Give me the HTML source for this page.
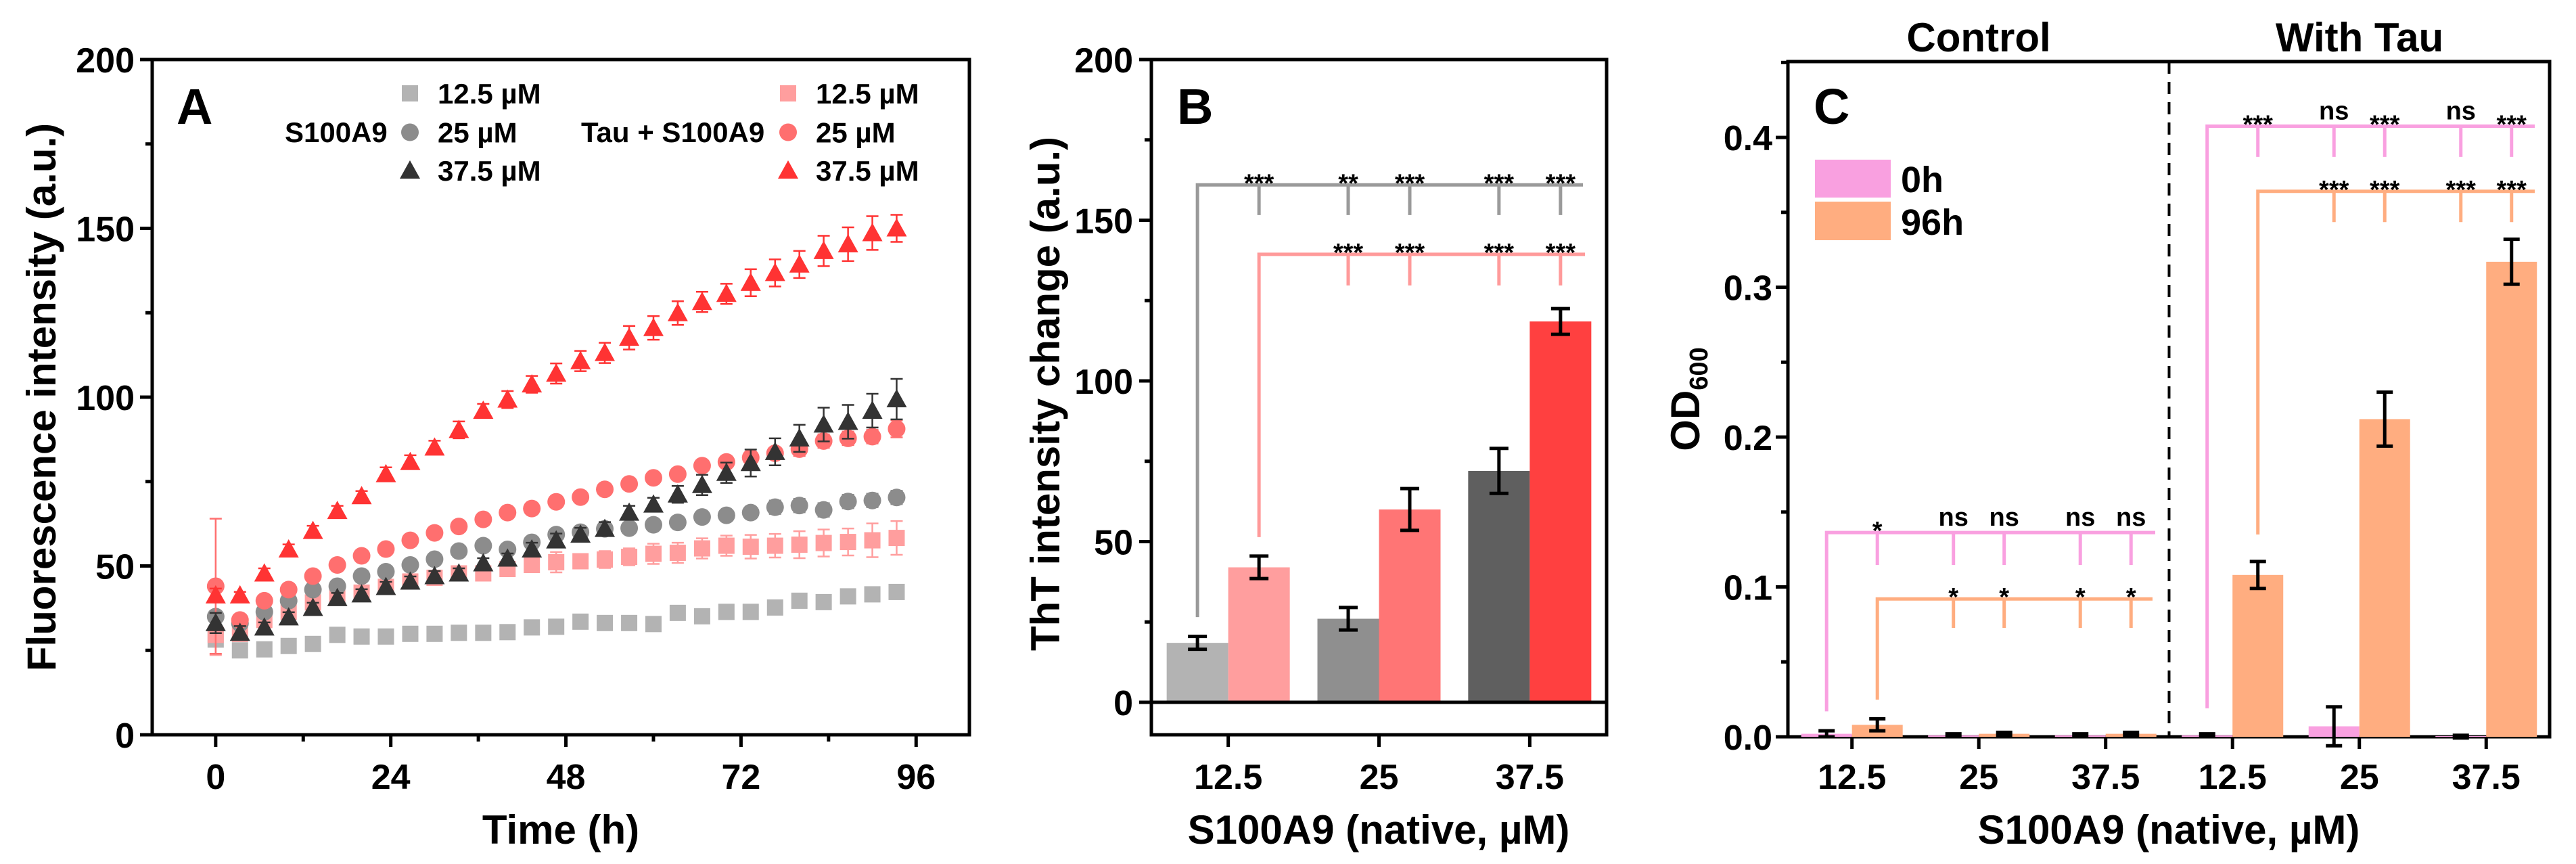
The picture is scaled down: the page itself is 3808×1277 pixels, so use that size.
<!DOCTYPE html>
<html><head><meta charset="utf-8"><style>
html,body{margin:0;padding:0;background:#fff;}
svg{display:block;}
text{font-family:"Liberation Sans",Arial,sans-serif;font-weight:bold;fill:#000;}
</style></head><body>
<svg id="fig" width="3808" height="1277" viewBox="0 0 3808 1277" xmlns="http://www.w3.org/2000/svg">
<g id="pA"></g>
<g id="pB"></g>
<g id="pC"></g>
</svg>
<script>
// ---------- Panel A data ----------
const timesA = [0,3.33,6.67,10,13.33,16.67,20,23.33,26.67,30,33.33,36.67,40,43.33,46.67,50,53.33,56.67,60,63.33,66.67,70,73.33,76.67,80,83.33,86.67,90,93.33];
const graySq = [28.2,25,25.3,26.3,26.9,29.6,29.1,29.1,29.9,29.9,30.2,30.2,30.4,31.8,32,33.5,33.1,33.1,32.8,36.1,35.1,36.4,36.4,37.7,39.7,39.3,41,41.6,42.3];
const graySqErr = [1,1,1,1,1,1,1,1,1,1,1,1,1,1,1,1,1,1,1,1,2,1.5,2,1,1,1,1,1,1];
const grayCi = [35,33,36.4,39.7,43,44,47,48.3,50.3,52,54.4,56,54.9,57,59.3,60,61,61.2,62.2,62.9,64.5,65,65.8,67.4,67.9,66.6,69.1,69.4,70.3];
const grayCiErr = [1.5,1,1,1,1,1,1,1,1,1,1,1,1,1,1,1,1,1,1,1,1.5,1.5,1.5,2,2,2,2,2,2];
const darkTr = [33.1,30.2,31.8,34.8,37.6,40.5,41.6,43.8,45.4,47,47.8,50.8,52.2,54.9,57.6,59.3,61,65.8,68.2,71.2,74,77.6,80.5,83.8,87.8,91.9,92.7,96,99.4];
const darkTrErr = [3,2,1.5,1.5,1.5,1.5,1.5,1.5,1.5,1.5,1.5,1.5,1.5,2,2,2,2,2,2,2.5,3,3,4,4,4,5,5,5,6];
const pinkSq = [29.6,29.9,34,36.4,39.2,41.3,42.1,43.8,45.4,46.5,47.8,47.8,49.1,50.3,51.1,51.4,51.9,52.7,53.6,53.9,55.2,56,55.7,56,56.3,56.8,57.1,57.6,58.3];
const pinkSqErr = [6,1.5,1,1,1,1,1,1,1,1,1,1.5,2,2,3,2,2.5,2.5,3,3,3,3,3.5,3.5,4,4,4,5,5];
const pinkCi = [44,34,39.7,43,47,50.3,53,55,57.6,59.8,61.7,63.8,65.8,67,69,70.4,72.7,74.3,76.1,77.2,79.7,80.8,82.1,83.4,84.6,87,87.8,88.3,90.6];
const pinkCiErr = [20,1.5,1,1,1,1,1,1,1,1,1,1,1,1,1,1,1,1,1,1,1.5,1.5,1.5,1.5,2,2,2,2,2.5];
const redTr = [41.3,41.3,47.8,54.9,60.4,66.3,70.7,77.2,80.8,85.1,90.3,96,99.3,103.8,107,110.7,113.1,117.6,120.5,124.9,128.2,130.6,133.9,136.8,139.3,143.3,145.3,148.6,150];
const redTrErr = [2,1,1.5,1.5,1.5,1.5,1.5,2,2,2,2.5,2,2.5,2.5,3,3,3,3.5,3.5,3.5,3,3,4,4,4,4.5,5,5,4];
const xTicksA = [0,24,48,72,96];
const yTicksA = [0,50,100,150,200];

// ---------- Panel B data ----------
const catsB = ["12.5","25","37.5"];
const bS100 = [18.5,26,72];
const bS100Err = [2,3.5,7];
const bTau = [42,60,118.5];
const bTauErr = [3.5,6.5,4];
const yTicksB = [0,50,100,150,200];
const sigB1 = ["***","**","***","***","***"];
const sigB2 = ["***","***","***","***"];

// ---------- Panel C data ----------
const catsC = ["12.5","25","37.5","12.5","25","37.5"];
const c0h = [0.002,0.001,0.001,0.001,0.007,0.0005];
const c0hErr = [0.002,0.001,0.001,0.001,0.013,0.0005];
const c96h = [0.008,0.002,0.002,0.108,0.212,0.317];
const c96hErr = [0.004,0.001,0.001,0.009,0.018,0.015];
const yTicksC = [0.0,0.1,0.2,0.3,0.4];
const sigC1 = ["*","ns","ns","ns","ns"];
const sigC2 = ["*","*","*","*"];
const sigC3 = ["***","ns","***","ns","***"];
const sigC4 = ["***","***","***","***"];

const NS="http://www.w3.org/2000/svg";
function mk(parent,tag,attrs){const e=document.createElementNS(NS,tag);for(const k in attrs)e.setAttribute(k,attrs[k]);parent.appendChild(e);return e;}
function lin(d0,d1,r0,r1){return v=>r0+(v-d0)/(d1-d0)*(r1-r0);}
function txt(parent,x,y,s,size,anchor){const t=mk(parent,'text',{x:x,y:y,'font-size':size,'text-anchor':anchor||'middle'});t.textContent=s;return t;}

// ===== Panel A =====
(function(){
 const g=document.getElementById('pA');
 const L=225,R=1433,T=88,B=1086;
 const x=lin(-8.7,103.3,L,R), y=lin(0,200,B,T);
 const frame=mk(g,'rect',{x:L,y:T,width:R-L,height:B-T,fill:'none',stroke:'#000','stroke-width':5});
 
 
 xTicksA.forEach(v=>{const l=mk(g,'line',{x1:x(v),x2:x(v),y1:B,y2:B+18,stroke:'#000','stroke-width':5});
  
  
  const t=txt(g,x(v),1166,String(v),52);
  
  
  if(v<96){mk(g,'line',{x1:x(v+12),x2:x(v+12),y1:B,y2:B+10,stroke:'#000','stroke-width':5});}
 });
 yTicksA.forEach(v=>{mk(g,'line',{x1:L-18,x2:L,y1:y(v),y2:y(v),stroke:'#000','stroke-width':5});
  const t=txt(g,199,y(v)+19,String(v),52,'end');
  
  
  if(v<200)mk(g,'line',{x1:L-10,x2:L,y1:y(v+25),y2:y(v+25),stroke:'#000','stroke-width':5});
 });
 const xt=txt(g,829,1247,'Time (h)',60);
 
 
 const yt=txt(g,0,0,'Fluorescence intensity (a.u.)',60);
 yt.setAttribute('transform','translate(82,587) rotate(-90)');
 
 
 const la=txt(g,261,183,'A',74,'start');
 
 
 function marker(gg,shape,cx,cy,col,s){
  if(shape==='sq')return mk(gg,'rect',{x:cx-12,y:cy-12,width:24,height:24,fill:col});
  if(shape==='ci')return mk(gg,'circle',{cx:cx,cy:cy,r:13,fill:col});
  return mk(gg,'polygon',{points:`${cx},${cy-15} ${cx-15},${cy+12} ${cx+15},${cy+12}`,fill:col});
 }
 const series=[
  ['gray-12.5',graySq,graySqErr,'sq','#b3b3b3'],
  ['pink-12.5',pinkSq,pinkSqErr,'sq','#ff9e9e'],
  ['gray-25',grayCi,grayCiErr,'ci','#8c8c8c'],
  ['pink-25',pinkCi,pinkCiErr,'ci','#ff6f6f'],
  ['dark-37.5',darkTr,darkTrErr,'tr','#333333'],
  ['red-37.5',redTr,redTrErr,'tr','#ff3333']];
 series.forEach(s=>{
  const sg=mk(g,'g',{});
  
  
  s[1].forEach((v,i)=>{
   const cx=x(timesA[i]),cy=y(v),e=s[2][i];
   mk(sg,'line',{x1:cx,x2:cx,y1:y(v+e),y2:y(v-e),stroke:s[4],'stroke-width':2.5});
   mk(sg,'line',{x1:cx-9,x2:cx+9,y1:y(v+e),y2:y(v+e),stroke:s[4],'stroke-width':2.5});
   mk(sg,'line',{x1:cx-9,x2:cx+9,y1:y(v-e),y2:y(v-e),stroke:s[4],'stroke-width':2.5});
   const m=marker(sg,s[3],cx,cy,s[4]);
   
   
  });
 });
 // legend
 const lg=mk(g,'g',{});
 
 
 const rows=[138,195.5,252], labs=['12.5 µM','25 µM','37.5 µM'], sh=['sq','ci','tr'];
 const c1=['#b3b3b3','#8c8c8c','#333333'], c2=['#ff9e9e','#ff6f6f','#ff3333'];
 rows.forEach((ry,i)=>{
  marker(lg,sh[i],606,ry,c1[i]); const t1=txt(lg,647,ry+15,labs[i],42,'start');
  
  
  marker(lg,sh[i],1165,ry,c2[i]); const t2=txt(lg,1206,ry+15,labs[i],42,'start');
  
  
 });
 txt(lg,421,210,'S100A9',42,'start');
 txt(lg,859,210,'Tau + S100A9',42,'start');
})();

// ===== Panel B =====
(function(){
 const g=document.getElementById('pB');
 const L=1702,R=2375,T=88,B=1086;
 const x=lin(0.49,3.51,L,R), y=lin(-10.1,200,B,T);
 const frame=mk(g,'rect',{x:L,y:T,width:R-L,height:B-T,fill:'none',stroke:'#000','stroke-width':5});
 
 
 const bw=91;
 const c1=['#b3b3b3','#8f8f8f','#5f5f5f'], c2=['#ff9e9e','#ff7575','#ff4040'];
 catsB.forEach((c,i)=>{
  const cx=x(i+1);
  const b1=mk(g,'rect',{x:cx-bw,y:y(bS100[i]),width:bw,height:y(0)-y(bS100[i]),fill:c1[i]});
  
  
  const b2=mk(g,'rect',{x:cx,y:y(bTau[i]),width:bw,height:y(0)-y(bTau[i]),fill:c2[i]});
  
  
  [[cx-bw/2,bS100[i],bS100Err[i]],[cx+bw/2,bTau[i],bTauErr[i]]].forEach(a=>{
   mk(g,'line',{x1:a[0],x2:a[0],y1:y(a[1]+a[2]),y2:y(a[1]-a[2]),stroke:'#000','stroke-width':5});
   mk(g,'line',{x1:a[0]-14,x2:a[0]+14,y1:y(a[1]+a[2]),y2:y(a[1]+a[2]),stroke:'#000','stroke-width':5});
   mk(g,'line',{x1:a[0]-14,x2:a[0]+14,y1:y(a[1]-a[2]),y2:y(a[1]-a[2]),stroke:'#000','stroke-width':5});
  });
  mk(g,'line',{x1:cx,x2:cx,y1:B,y2:B+18,stroke:'#000','stroke-width':5});
  const t=txt(g,cx,1166,c,52);
  
  
 });
 mk(g,'line',{x1:L,x2:R,y1:y(0),y2:y(0),stroke:'#000','stroke-width':5});
 yTicksB.forEach(v=>{mk(g,'line',{x1:L-18,x2:L,y1:y(v),y2:y(v),stroke:'#000','stroke-width':5});
  const t=txt(g,1675,y(v)+19,String(v),52,'end');
  
  
  if(v<200)mk(g,'line',{x1:L-10,x2:L,y1:y(v+25),y2:y(v+25),stroke:'#000','stroke-width':5});
 });
 // brackets
 const centers=[x(1)-bw/2,x(1)+bw/2,x(2)-bw/2,x(2)+bw/2,x(3)-bw/2,x(3)+bw/2];
 function bracket(col,yLine,yLeftEnd,yTick,xs,labs,xEnd,name){
  const bg=mk(g,'g',{});
  
  
  mk(bg,'polyline',{points:`${xs[0]},${y(yLeftEnd)} ${xs[0]},${y(yLine)} ${xEnd},${y(yLine)}`,fill:'none',stroke:col,'stroke-width':5});
  xs.slice(1).forEach((xx,i)=>{
   mk(bg,'line',{x1:xx,x2:xx,y1:y(yLine),y2:y(yTick),stroke:col,'stroke-width':5});
   txt(bg,xx,y(yLine)+10,labs[i],38);
  });
 }
 bracket('#9a9a9a',161,26.5,151.6,[centers[0],centers[1],centers[2],centers[3],centers[4],centers[5]],sigB1,2340,'bracket-s100a9');
 bracket('#ff9a9a',139.4,51.4,129.7,[centers[1],centers[2],centers[3],centers[4],centers[5]],sigB2,2343,'bracket-tau');
 const xt=txt(g,2038,1247,'S100A9 (native, µM)',60);
 
 
 const yt=txt(g,0,0,'ThT intensity change (a.u.)',60);
 yt.setAttribute('transform','translate(1566,582) rotate(-90)');
 
 
 const lb=txt(g,1740,183,'B',74,'start');
 
 
})();

// ===== Panel C =====
(function(){
 const g=document.getElementById('pC');
 const L=2643,R=3769,T=91,B=1089;
 const x=lin(0.495,6.5,L,R), y=lin(0,0.4506,B,T);
 const frame=mk(g,'rect',{x:L,y:T,width:R-L,height:B-T,fill:'none',stroke:'#000','stroke-width':5});
 
 
 const dl=mk(g,'line',{x1:x(3.5),x2:x(3.5),y1:T,y2:B,stroke:'#000','stroke-width':4,'stroke-dasharray':'18,12'});
 
 
 const bw=75;
 catsC.forEach((c,i)=>{
  const cx=x(i+1);
  const b1=mk(g,'rect',{x:cx-bw,y:y(c0h[i]),width:bw,height:y(0)-y(c0h[i]),fill:'#f9a0e0'});
  
  
  const b2=mk(g,'rect',{x:cx,y:y(c96h[i]),width:bw,height:y(0)-y(c96h[i]),fill:'#ffad80'});
  
  
  [[cx-bw/2,c0h[i],c0hErr[i]],[cx+bw/2,c96h[i],c96hErr[i]]].forEach(a=>{
   const t=y(a[1]+a[2]),b=Math.max(y(a[1]-a[2]),y(a[1]+a[2])+4);
   mk(g,'line',{x1:a[0],x2:a[0],y1:t,y2:b,stroke:'#000','stroke-width':5});
   mk(g,'line',{x1:a[0]-12,x2:a[0]+12,y1:t,y2:t,stroke:'#000','stroke-width':5});
   mk(g,'line',{x1:a[0]-12,x2:a[0]+12,y1:b,y2:b,stroke:'#000','stroke-width':5});
  });
  mk(g,'line',{x1:cx,x2:cx,y1:B,y2:B+18,stroke:'#000','stroke-width':5});
  const t=txt(g,cx,1166,c,52);
  
  
 });
 yTicksC.forEach(v=>{mk(g,'line',{x1:L-18,x2:L,y1:y(v),y2:y(v),stroke:'#000','stroke-width':5});
  const t=txt(g,2620,y(v)+19,v.toFixed(1),52,'end');
  
  
  mk(g,'line',{x1:L-10,x2:L,y1:y(v+0.05),y2:y(v+0.05),stroke:'#000','stroke-width':5});
 });
 const p=i=>x(i+1)-bw/2, o=i=>x(i+1)+bw/2;
 function bracket(col,yLine,yLeftEnd,yTick,xs,labs,xEnd,name){
  const bg=mk(g,'g',{});
  
  
  mk(bg,'polyline',{points:`${xs[0]},${y(yLeftEnd)} ${xs[0]},${y(yLine)} ${xEnd},${y(yLine)}`,fill:'none',stroke:col,'stroke-width':5});
  xs.slice(1).forEach((xx,i)=>{
   mk(bg,'line',{x1:xx,x2:xx,y1:y(yLine),y2:y(yTick),stroke:col,'stroke-width':5});
   const l=labs[i];
   txt(bg,xx,l==='ns'?y(yLine)-10:y(yLine)+10,l,38);
  });
 }
 bracket('#f9a0e0',0.1363,0.017,0.1147,[p(0),o(0),p(1),o(1),p(2),o(2)],sigC1,3186,'bracket-control-0h');
 bracket('#ffad80',0.092,0.0248,0.0727,[o(0),p(1),o(1),p(2),o(2)],sigC2,3182,'bracket-control-96h');
 bracket('#f9a0e0',0.4075,0.019,0.387,[p(3),o(3),p(4),o(4),p(5),o(5)],sigC3,3747,'bracket-tau-0h');
 bracket('#ffad80',0.364,0.135,0.3435,[o(3),p(4),o(4),p(5),o(5)],sigC4,3747,'bracket-tau-96h');
 // legend
 const lg=mk(g,'g',{});
 
 
 mk(lg,'rect',{x:2683,y:236,width:112,height:56,fill:'#f9a0e0'});
 mk(lg,'rect',{x:2683,y:298,width:112,height:57,fill:'#ffad80'});
 const l1=txt(lg,2810,284,'0h',54,'start');
 
 
 const l2=txt(lg,2810,347,'96h',54,'start');
 
 
 const ct=txt(g,2925,76,'Control',60);
 
 
 const wt=txt(g,3488,76,'With Tau',60);
 
 
 const xt=txt(g,3206,1247,'S100A9 (native, µM)',60);
 
 
 const yt=mk(g,'text',{transform:'translate(2512,590) rotate(-90)','text-anchor':'middle','font-size':60});
 
 
 yt.appendChild(document.createTextNode('OD'));
 const sub=mk(yt,'tspan',{'font-size':38,dy:12});sub.textContent='600';
 const lc=txt(g,2681,183,'C',74,'start');
 
 
})();
</script>
</body></html>
